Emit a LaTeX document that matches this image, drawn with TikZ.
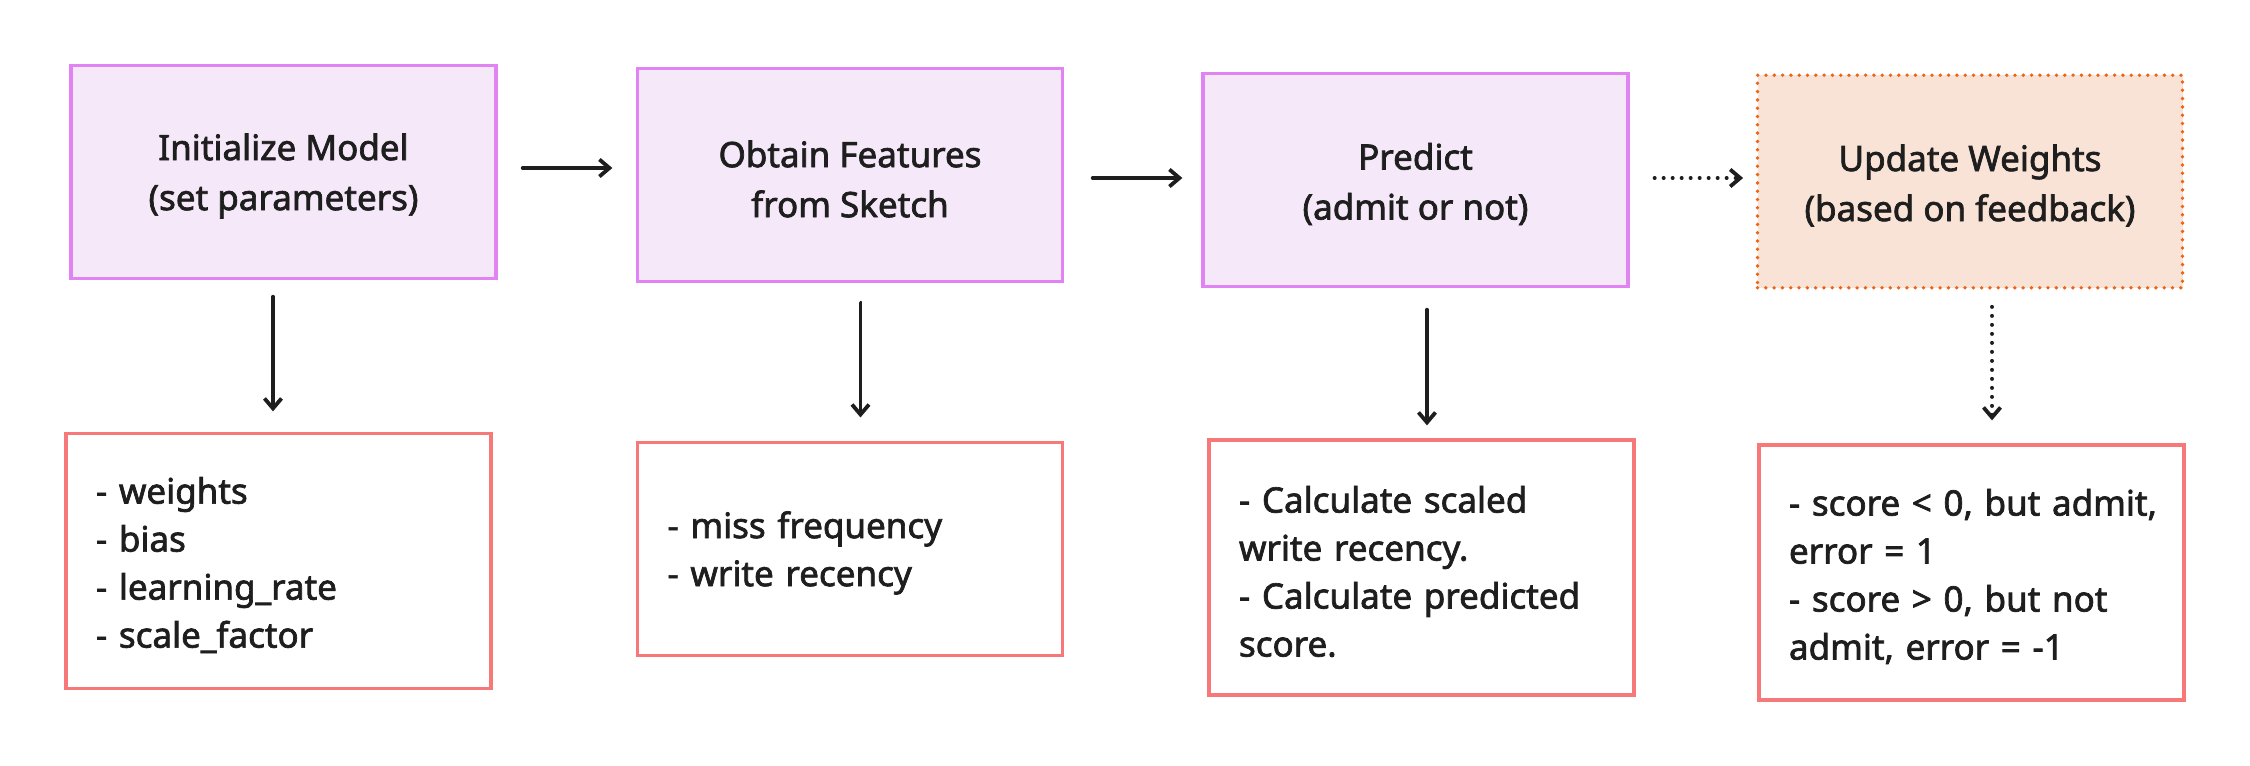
\documentclass[tikz,border=0pt]{standalone}
\usepackage{fontspec}
\setmainfont{Noto Sans}[FakeBold=2]
\usetikzlibrary{arrows.meta,calc}
\definecolor{pfill}{HTML}{F5E8F9}
\definecolor{pdraw}{HTML}{E283F4}
\definecolor{ofill}{HTML}{F8E3D6}
\definecolor{odraw}{HTML}{EC6514}
\definecolor{rdraw}{HTML}{F67878}
\definecolor{ink}{HTML}{1E1E1E}
\newcommand{\lift}{\rule{0pt}{17.3pt}}
\begin{document}
\begin{tikzpicture}[x=0.5pt,y=-0.5pt,
  topbox/.style={draw=pdraw,fill=pfill,line width=1.65pt,minimum width=212.5pt,minimum height=106.3pt,
    inner sep=0pt,align=center,text=ink,font=\fontsize{17.5}{25}\selectfont},
  feedbox/.style={topbox,draw=odraw,fill=ofill,line width=1.9pt,dash pattern=on 0pt off 4.15pt,line cap=round},
  listbox/.style={draw=rdraw,fill=white,line width=1.65pt,minimum width=212.5pt,inner ysep=0pt,inner xsep=15pt,
    text width=182.5pt,align=left,text=ink,font=\fontsize{17.5}{24}\selectfont},
  arr/.style={draw=ink,line width=1.9pt,line cap=round,-{Straight Barb[length=5pt,width=8.5pt,line width=1.9pt]}},
  dotarr/.style={arr,line width=2pt,dash pattern=on 0pt off 4.5pt}
]
\useasboundingbox (0,0) rectangle (2250,766);
\fill[white] (0,0) rectangle (2250,766);

\node[topbox] (t1) at (283.5,172) {\lift Initialize Model\\(set parameters)};
\node[topbox] (t2) at (850,175) {\lift Obtain Features\\from Sketch};
\node[topbox] (t3) at (1415.5,180) {\lift Predict\\(admit or not)};
\node[feedbox] (t4) at (1970,181.5) {\lift Update Weights\\(based on feedback)};

\node[listbox,minimum height=127.4pt] (b1) at (278.5,561) {\lift - weights\\- bias\\- learning\_rate\\- scale\_factor};
\node[listbox,minimum height=106.3pt] (b2) at (850,549) {\lift - miss frequency\\- write recency};
\node[listbox,minimum height=127.4pt] (b3) at (1421.5,567.5) {\lift - Calculate scaled\\write recency.\\\mbox{- Calculate predicted}\\score.};
\node[listbox,minimum height=127.4pt] (b4) at (1971.5,572.5) {\lift\mbox{- score < 0, but admit,}\\error = 1\\\mbox{- score > 0, but not}\\\mbox{admit, error = -1}};

\draw[arr,shorten <=12.5pt,shorten >=11.75pt] ($(t1.east)+(0,-4)$) -- ($(t2.west)+(0,-7)$);
\draw[arr,shorten <=14.25pt,shorten >=9.5pt] ($(t2.east)+(0,3)$) -- ($(t3.west)+(0,-2)$);
\draw[dotarr,shorten <=12.5pt,shorten >=6.25pt] ($(t3.east)+(0,-2)$) -- ($(t4.west)+(0,-3.5)$);

\draw[arr,shorten <=8.35pt,shorten >=10.3pt] ($(t1.south)+(-10.5,0)$) -- ($(t1.south |- b1.north)+(-10.5,0)$);
\draw[arr,shorten <=9.85pt,shorten >=11.8pt] ($(t2.south)+(10.5,0)$) -- ($(t2.south |- b2.north)+(10.5,0)$);
\draw[arr,shorten <=10.85pt,shorten >=6.55pt] ($(t3.south)+(11.5,0)$) -- ($(t3.south |- b3.north)+(11.5,0)$);
\draw[dotarr,shorten <=8.6pt,shorten >=11.55pt] ($(t4.south)+(22,0)$) -- ($(t4.south |- b4.north)+(22,0)$);
\end{tikzpicture}
\end{document}
